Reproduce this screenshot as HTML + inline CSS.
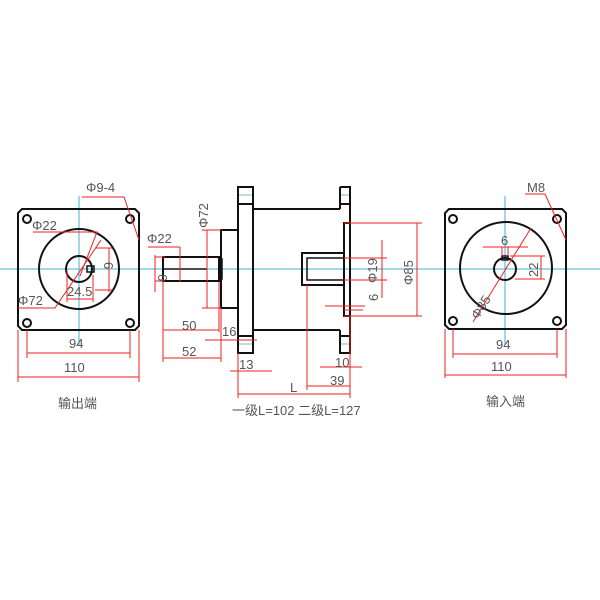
<!DOCTYPE html>
<html><head><meta charset="utf-8"><style>
html,body{margin:0;padding:0;background:#fff;width:600px;height:600px;overflow:hidden}
svg{display:block}
text{font-family:"Liberation Sans","Noto Sans CJK SC",sans-serif;fill:#555}
</style></head><body>
<svg width="600" height="600" viewBox="0 0 600 600" xmlns="http://www.w3.org/2000/svg">
<line x1="0" y1="269" x2="600" y2="269" stroke="#3bb3d6" stroke-width="1"/>
<line x1="79" y1="196" x2="79" y2="345" stroke="#3bb3d6" stroke-width="1"/>
<line x1="505" y1="196" x2="505" y2="345" stroke="#3bb3d6" stroke-width="1"/>

<g fill="none" stroke="#111" stroke-width="2">
<path d="M22 209 H135 L139 213 V326 L135 330 H22 L18 326 V213 Z"/>
<circle cx="79" cy="269" r="40"/>
<circle cx="79" cy="269" r="13"/>
<circle cx="27" cy="219" r="4"/><circle cx="130" cy="219" r="4"/>
<circle cx="27" cy="323" r="4"/><circle cx="130" cy="323" r="4"/>
<rect x="87" y="266" width="7" height="6" stroke-width="1.5"/>
<path d="M449 209 H562 L566 213 V325 L562 329 H449 L445 325 V213 Z"/>
<circle cx="506" cy="268" r="46"/>
<circle cx="505" cy="269" r="11"/>
<circle cx="453" cy="219" r="4"/><circle cx="557" cy="219" r="4"/>
<circle cx="453" cy="321" r="4"/><circle cx="557" cy="321" r="4"/>
<rect x="502" y="256" width="6" height="4" stroke-width="1.5"/>
<rect x="163" y="257" width="56" height="24"/>
<line x1="163" y1="269" x2="207" y2="269" stroke-width="1.5"/>
<rect x="219" y="259" width="3" height="20" stroke-width="1.5"/>
<rect x="221" y="230" width="17" height="78"/>
<rect x="238" y="187" width="15" height="166"/>
<line x1="238" y1="204" x2="253" y2="204"/>
<line x1="238" y1="336" x2="253" y2="336"/>
<line x1="253" y1="209" x2="340" y2="209"/>
<line x1="253" y1="330" x2="340" y2="330"/>
<path d="M340 187 H350 V353 H340 V330"/>
<path d="M340 187 V209"/>
<line x1="340" y1="204" x2="350" y2="204"/>
<line x1="340" y1="336" x2="350" y2="336"/>
<rect x="344" y="223" width="6" height="93"/>
<rect x="302" y="253" width="42" height="32"/>
<rect x="307" y="258" width="37" height="22" stroke-width="1.5"/>
</g>
<g stroke="#6aa" stroke-width="0.8">
<line x1="239" y1="195" x2="252" y2="195"/><line x1="239" y1="344" x2="252" y2="344"/>
<line x1="341" y1="195" x2="349" y2="195"/><line x1="341" y1="344" x2="349" y2="344"/>
</g>

<g stroke="#e22" stroke-width="1" fill="none">
<line x1="27" y1="330" x2="27" y2="358"/><line x1="130" y1="330" x2="130" y2="358"/>
<line x1="27" y1="353" x2="130" y2="353"/>
<line x1="18" y1="330" x2="18" y2="382"/><line x1="139" y1="330" x2="139" y2="382"/>
<line x1="18" y1="377" x2="139" y2="377"/>
<polyline points="82,197 124,197 139,240"/>
<polyline points="33,232 97,232 80,276"/>
<polyline points="18,308 55,308 101,240"/>
<line x1="67" y1="299" x2="93" y2="299"/>
<line x1="67" y1="270" x2="67" y2="302"/><line x1="93" y1="275" x2="93" y2="302"/>
<line x1="109" y1="248" x2="109" y2="292"/>
<line x1="95" y1="248" x2="112" y2="248"/><line x1="95" y1="290" x2="112" y2="290"/>
<line x1="148" y1="247" x2="180" y2="247"/><line x1="180" y1="247" x2="180" y2="282"/>
<line x1="155" y1="257" x2="165" y2="257"/><line x1="155" y1="281" x2="165" y2="281"/>
<line x1="155" y1="255" x2="155" y2="292"/>
<line x1="207" y1="230" x2="207" y2="308"/>
<line x1="202" y1="230" x2="221" y2="230"/><line x1="202" y1="308" x2="221" y2="308"/>
<line x1="163" y1="282" x2="163" y2="362"/><line x1="219" y1="282" x2="219" y2="332"/>
<line x1="221" y1="308" x2="221" y2="362"/>
<line x1="163" y1="330" x2="219" y2="330"/>
<line x1="163" y1="358" x2="221" y2="358"/>
<line x1="205" y1="340" x2="257" y2="340"/>
<line x1="230" y1="371" x2="272" y2="371"/>
<line x1="238" y1="353" x2="238" y2="398"/>
<line x1="238" y1="394" x2="350" y2="394"/>
<line x1="350" y1="316" x2="350" y2="398"/>
<line x1="307" y1="285" x2="307" y2="390"/>
<line x1="307" y1="386" x2="350" y2="386"/>
<line x1="320" y1="367" x2="362" y2="367"/>
<line x1="325" y1="306" x2="365" y2="306"/>
<line x1="344" y1="310" x2="363" y2="310"/>
<line x1="344" y1="223" x2="422" y2="223"/><line x1="344" y1="316" x2="422" y2="316"/>
<line x1="417" y1="223" x2="417" y2="316"/>
<line x1="344" y1="258" x2="387" y2="258"/><line x1="344" y1="280" x2="387" y2="280"/>
<line x1="382" y1="240" x2="382" y2="298"/>
<line x1="453" y1="329" x2="453" y2="358"/><line x1="557" y1="329" x2="557" y2="358"/>
<line x1="453" y1="354" x2="557" y2="354"/>
<line x1="445" y1="329" x2="445" y2="378"/><line x1="566" y1="329" x2="566" y2="378"/>
<line x1="445" y1="375" x2="566" y2="375"/>
<polyline points="525,194 545,194 566,240"/>
<line x1="473" y1="322" x2="531" y2="228"/>
<line x1="483" y1="247" x2="528" y2="247"/>
<line x1="502" y1="247" x2="502" y2="256"/><line x1="508" y1="247" x2="508" y2="256"/>
<line x1="510" y1="256" x2="545" y2="256"/><line x1="515" y1="279" x2="545" y2="279"/>
<line x1="541" y1="256" x2="541" y2="279"/>
</g>
<g font-size="13">
<text x="86" y="192">Φ9-4</text>
<text x="32" y="230">Φ22</text>
<text x="18" y="305">Φ72</text>
<text x="67" y="296">24.5</text>
<text x="69" y="348">94</text>
<text x="64" y="372">110</text>
<text x="147" y="243">Φ22</text>
<text x="182" y="330">50</text>
<text x="182" y="356">52</text>
<text x="222" y="336">16</text>
<text x="239" y="369">13</text>
<text x="335" y="367">10</text>
<text x="330" y="385">39</text>
<text x="290" y="392">L</text>
<text x="232" y="415">一级L=102  二级L=127</text>
<text x="496" y="349">94</text>
<text x="491" y="371">110</text>
<text x="527" y="192">M8</text>
<text x="501" y="245">6</text>
</g>
<g font-size="13">
<text transform="translate(208,228) rotate(-90)">Φ72</text>
<text transform="translate(158,274) rotate(90)">6</text>
<text transform="translate(104,262) rotate(90)">6</text>
<text transform="translate(377,283) rotate(-90)">Φ19</text>
<text transform="translate(378,301) rotate(-90)">6</text>
<text transform="translate(413,285) rotate(-90)">Φ85</text>
<text transform="translate(538,277) rotate(-90)">22</text>
<text transform="translate(478,320) rotate(-58)">Φ85</text>
</g>
<g font-size="13">
<text x="58" y="408">输出端</text>
<text x="486" y="406">输入端</text>
</g>
</svg>
</body></html>
